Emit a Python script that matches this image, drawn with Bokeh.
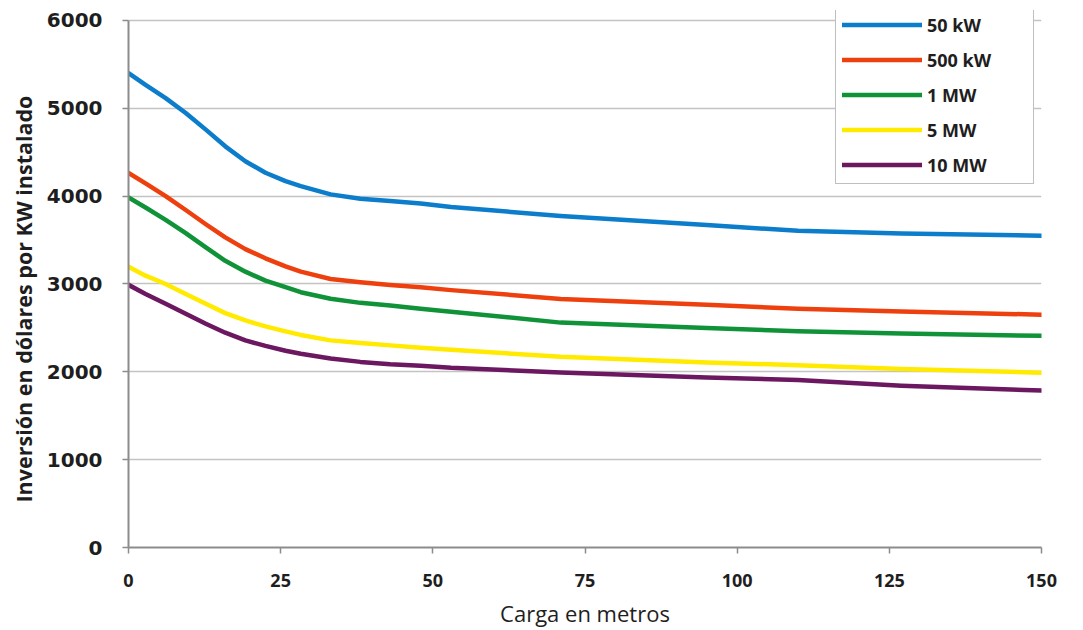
from bokeh.plotting import figure
from bokeh.models import Range1d, FixedTicker, Legend, LegendItem, Title
from bokeh.embed import file_html
from bokeh.resources import INLINE

# Data
carga = [0, 2.8, 6.1, 9.4, 12.7, 15.9, 19.2, 22.5, 25.8, 28.3, 33.2, 38.1,
         43, 48, 53, 71, 95, 110, 127, 150]
kw50 = [5400, 5266, 5116, 4946, 4757, 4567, 4397, 4266, 4170, 4114, 4020, 3971,
        3944, 3915, 3875, 3775, 3670, 3605, 3575, 3550]
kw500 = [4265, 4145, 4001, 3842, 3680, 3530, 3397, 3292, 3201, 3140, 3057, 3020,
         2989, 2963, 2930, 2830, 2763, 2718, 2688, 2650]
mw1 = [3985, 3870, 3729, 3578, 3416, 3264, 3140, 3038, 2963, 2906, 2831, 2785,
       2755, 2717, 2685, 2560, 2499, 2461, 2435, 2410]
mw5 = [3195, 3095, 3000, 2887, 2774, 2668, 2585, 2517, 2460, 2420, 2358, 2329,
       2301, 2275, 2250, 2171, 2106, 2076, 2031, 1990]
mw10 = [2990, 2887, 2774, 2661, 2547, 2445, 2358, 2295, 2240, 2205, 2151, 2113,
        2086, 2068, 2045, 1993, 1935, 1906, 1842, 1786]

series_names = ["50 kW", "500 kW", "1 MW", "5 MW", "10 MW"]
series_values = [kw50, kw500, mw1, mw5, mw10]
series_colors = ["#0B7DCB", "#EE400E", "#109338", "#FFEA00", "#6B1860"]

x_ticks = [0, 25, 50, 75, 100, 125, 150]
y_ticks = [0, 1000, 2000, 3000, 4000, 5000, 6000]

FONT = "Open Sans"
TXT = "#1E1E1E"

# y range extends a little above 6000 so the legend box (which pokes above
# the 6000 line in the original) stays inside the plotting frame
p = figure(width=1083, height=630, output_backend="svg", toolbar_location=None,
           x_range=Range1d(0, 150), y_range=Range1d(0, 6000 * 540 / 530),
           min_border_left=128, min_border_right=42, min_border_top=10,
           min_border_bottom=80)
p.outline_line_color = None
p.background_fill_color = "white"
p.border_fill_color = "white"

# grid
p.xgrid.grid_line_color = None
p.ygrid.ticker = FixedTicker(ticks=y_ticks)
p.ygrid.grid_line_color = "#C4C4C4"
p.ygrid.grid_line_width = 1.5

# axes
for ax in (p.xaxis[0], p.yaxis[0]):
    ax.axis_line_color = "#8C8C8C"
    ax.axis_line_width = 2
    ax.major_tick_line_color = "#8C8C8C"
    ax.major_tick_line_width = 1.5
    ax.major_tick_out = 6
    ax.major_tick_in = 0
    ax.minor_tick_line_color = None
    ax.major_label_text_font_style = "bold"
    ax.major_label_text_color = TXT
    ax.axis_label_text_font = FONT
    ax.axis_label_text_color = TXT

p.yaxis.bounds = (0, 6000)
p.xaxis.ticker = FixedTicker(ticks=x_ticks)
p.yaxis.ticker = FixedTicker(ticks=y_ticks)
p.xaxis.major_label_text_font = FONT
p.yaxis.major_label_text_font = "DejaVu Sans"
p.xaxis.major_label_text_font_size = "18px"
p.yaxis.major_label_text_font_size = "20px"
p.xaxis.major_label_standoff = 20
p.yaxis.major_label_standoff = 20

p.xaxis.axis_label = "Carga en metros"
p.xaxis.axis_label_text_font_size = "22px"
p.xaxis.axis_label_text_font_style = "normal"
p.xaxis.axis_label_standoff = 8

# y-axis title placed as a side title so it can be positioned like the original
ytitle = Title(text="Inversión en dólares por KW instalado", align="left",
               offset=45, standoff=12, text_font=FONT, text_font_size="21.5px",
               text_font_style="bold", text_color=TXT)
p.add_layout(ytitle, "left")

items = []
for name, vals, col in zip(series_names, series_values, series_colors):
    r = p.line(carga, vals, line_color=col, line_width=4.5, line_join="round",
               line_cap="round")
    items.append(LegendItem(label=name, renderers=[r]))

legend = Legend(items=items, location=(707, 363), orientation="vertical",
                border_line_color="#7F7F7F", border_line_width=1.5,
                background_fill_color="white", background_fill_alpha=1,
                padding=6, spacing=10, glyph_height=25, glyph_width=80,
                label_height=25, label_width=100, label_standoff=5, margin=0,
                label_text_font=FONT, label_text_font_style="bold",
                label_text_font_size="18px", label_text_color=TXT)
p.add_layout(legend, "center")

open("out.html", "w").write(file_html(p, INLINE))
